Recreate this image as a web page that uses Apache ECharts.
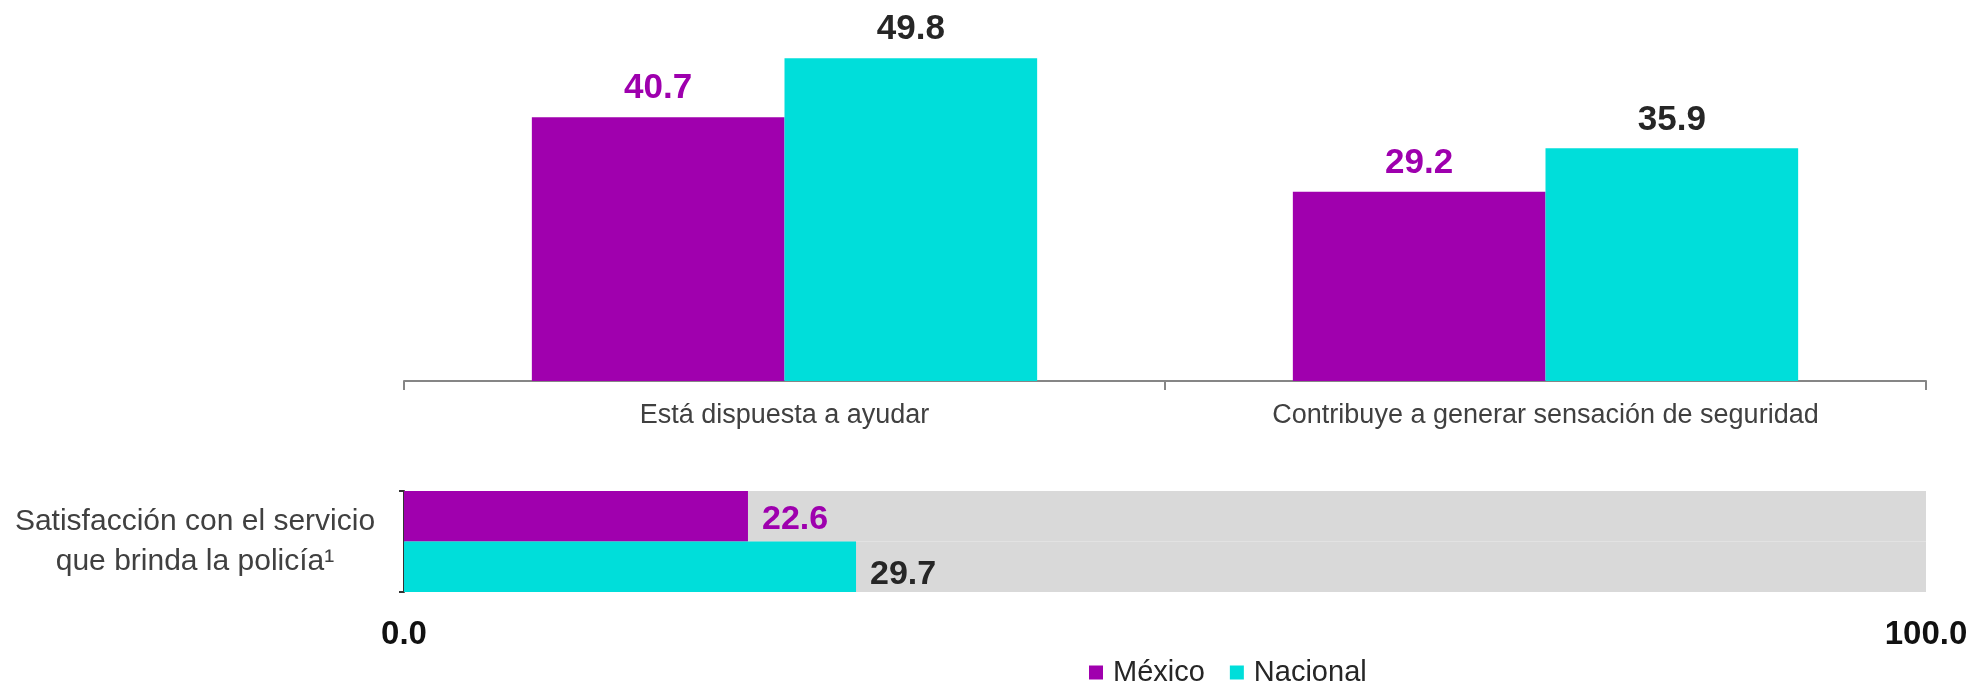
<!DOCTYPE html>
<html>
<head>
<meta charset="utf-8">
<script src="https://cdn.jsdelivr.net/npm/echarts@6/dist/echarts.min.js"></script>
<style>
  html, body { margin: 0; padding: 0; background: #fff; }
  #chart { width: 1980px; height: 684px; }
</style>
</head>
<body>
<div id="chart"></div>
<script>
// datos
var categorias = ['Está dispuesta a ayudar', 'Contribuye a generar sensación de seguridad'];
var mexico = [40.7, 29.2];
var nacional = [49.8, 35.9];
var satisfCategoria = ['Satisfacción con el servicio\nque brinda la policía¹'];
var satisfMexico = [22.6];
var satisfNacional = [29.7];
var escalaTicks = [0, 100];

var MORADO = '#A000AE';
var TURQUESA = '#00DEDA';
var FUENTE = '"Liberation Sans", Arial, sans-serif';

function unDecimal(p) { return p.value.toFixed(1); }

var chart = echarts.init(document.getElementById('chart'));

var option = {
  animation: false,
  textStyle: { fontFamily: FUENTE },
  legend: {
    data: ['México', 'Nacional'],
    left: 1084,
    top: 653,
    icon: 'rect',
    itemWidth: 14,
    itemHeight: 14,
    itemGap: 25,
    textStyle: { fontSize: 29, color: '#262626', fontFamily: FUENTE, padding: [0, 0, 0, 5] }
  },
  grid: [
    { left: 404, right: 54, top: 57, height: 324 },
    { left: 404, right: 54, top: 491, height: 101 }
  ],
  xAxis: [
    {
      gridIndex: 0,
      type: 'category',
      data: categorias,
      axisLine: { show: true, lineStyle: { color: '#868686', width: 2 } },
      axisTick: { show: true, length: 9, lineStyle: { color: '#868686', width: 2 } },
      axisLabel: { fontSize: 27, color: '#404040', margin: 21, fontFamily: FUENTE }
    },
    {
      gridIndex: 1,
      type: 'value',
      min: escalaTicks[0],
      max: escalaTicks[1],
      interval: 100,
      splitLine: { show: false },
      axisLine: { show: false },
      axisTick: { show: false },
      axisLabel: {
        fontSize: 33, fontWeight: 'bold', color: '#111', margin: 26, fontFamily: FUENTE,
        formatter: function (v) { return v.toFixed(1); }
      }
    }
  ],
  yAxis: [
    { gridIndex: 0, type: 'value', min: 0, max: 50, show: false },
    {
      gridIndex: 1,
      type: 'category',
      data: satisfCategoria,
      inverse: true,
      offset: 2,
      axisLine: { show: true, lineStyle: { color: '#333', width: 2 } },
      axisTick: { show: true, length: 5, lineStyle: { color: '#333', width: 2 } },
      axisLabel: {
        fontSize: 30, color: '#404040', align: 'center', margin: 207,
        lineHeight: 40, padding: [10, 0, 0, 0], fontFamily: FUENTE
      }
    }
  ],
  series: [
    {
      name: 'México', type: 'bar', xAxisIndex: 0, yAxisIndex: 0,
      data: mexico, barGap: 0, barCategoryGap: '33.6%',
      itemStyle: { color: MORADO },
      label: { show: true, position: 'top', distance: 11, fontSize: 35, fontWeight: 'bold', color: '#9E00AE', fontFamily: FUENTE,
        formatter: unDecimal }
    },
    {
      name: 'Nacional', type: 'bar', xAxisIndex: 0, yAxisIndex: 0,
      data: nacional, barGap: 0, barCategoryGap: '33.6%',
      itemStyle: { color: TURQUESA },
      label: { show: true, position: 'top', distance: 11, fontSize: 35, fontWeight: 'bold', color: '#262626', fontFamily: FUENTE,
        formatter: unDecimal }
    },
    {
      name: 'México', type: 'bar', xAxisIndex: 1, yAxisIndex: 1,
      data: satisfMexico, barGap: 0, barCategoryGap: 0,
      showBackground: true, backgroundStyle: { color: '#D9D9D9' },
      itemStyle: { color: MORADO },
      label: { show: true, position: 'right', distance: 14, fontSize: 34, fontWeight: 'bold', color: '#9E00AE', fontFamily: FUENTE,
        offset: [0, 3], formatter: unDecimal }
    },
    {
      name: 'Nacional', type: 'bar', xAxisIndex: 1, yAxisIndex: 1,
      data: satisfNacional, barGap: 0, barCategoryGap: 0,
      showBackground: true, backgroundStyle: { color: '#D9D9D9' },
      itemStyle: { color: TURQUESA },
      label: { show: true, position: 'right', distance: 14, fontSize: 34, fontWeight: 'bold', color: '#262626', fontFamily: FUENTE,
        offset: [0, 8], formatter: unDecimal }
    }
  ]
};

chart.setOption(option);
</script>
</body>
</html>
